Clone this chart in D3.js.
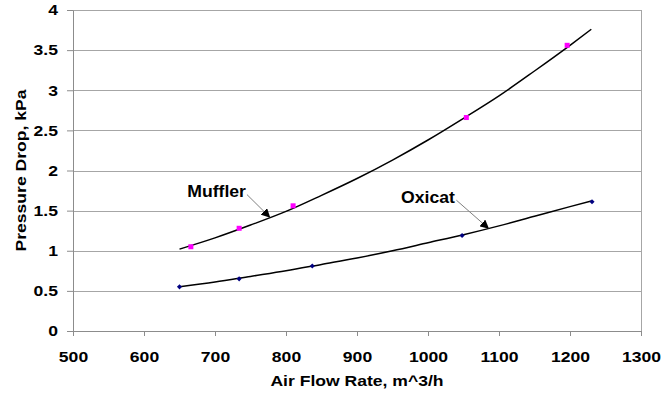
<!DOCTYPE html>
<html>
<head>
<meta charset="utf-8">
<script src="https://cdn.jsdelivr.net/npm/d3@7"></script>
<style>
  body { margin: 0; background: #fff; }
  svg { display: block; font-family: "Liberation Sans", Arial, sans-serif; }
</style>
</head>
<body>
<svg id="chart" width="662" height="394"></svg>
<script>
// measured points
const mufflerX = [666, 734, 810, 1054, 1196];
const mufflerY = [1.05, 1.28, 1.56, 2.66, 3.56];
const oxicatX = [650, 734, 837, 1048, 1231];
const oxicatY = [0.55, 0.65, 0.81, 1.19, 1.61];

// trend lines
const trendX = [650, 700, 750, 800, 850, 900, 950, 1000, 1050, 1100, 1150, 1200, 1230];
const mufflerTrend = [1.02, 1.16, 1.32, 1.49, 1.69, 1.90, 2.13, 2.38, 2.65, 2.93, 3.24, 3.56, 3.76];
const oxicatTrend = [0.55, 0.61, 0.68, 0.75, 0.83, 0.91, 1.00, 1.10, 1.20, 1.31, 1.43, 1.55, 1.62];

const xTicks = [500, 600, 700, 800, 900, 1000, 1100, 1200, 1300];
const yTicks = [0, 0.5, 1, 1.5, 2, 2.5, 3, 3.5, 4];

// callout labels: text position and arrow (from -> to) in data units
const callouts = [
  { text: "Muffler", x: 661, y: 1.67, from: [745, 1.70], to: [777, 1.42] },
  { text: "Oxicat", x: 962, y: 1.59, from: [1040, 1.63], to: [1085, 1.28] }
];

const svg = d3.select("#chart");
const margin = { top: 10, right: 21, bottom: 63, left: 73 };
const width = 662 - margin.left - margin.right;
const height = 394 - margin.top - margin.bottom;

const g = svg.append("g").attr("transform", `translate(${margin.left},${margin.top})`);
const x = d3.scaleLinear().domain([500, 1300]).range([0, width]);
const y = d3.scaleLinear().domain([0, 4]).range([height, 0]);

// stretch text a bit wider, like the original rendering
function stretch(sel, k) {
  sel.each(function () {
    const w = this.getComputedTextLength();
    d3.select(this).attr("textLength", w * k).attr("lengthAdjust", "spacingAndGlyphs");
  });
}

// gridlines
g.append("g")
  .selectAll("line")
  .data(yTicks.filter(d => d > 0))
  .join("line")
  .attr("x1", 0)
  .attr("x2", width)
  .attr("y1", d => Math.round(y(d)) + 0.5)
  .attr("y2", d => Math.round(y(d)) + 0.5)
  .attr("stroke", "#a6a6a6")
  .attr("stroke-width", 1);

// right border
g.append("line")
  .attr("x1", width + 0.5).attr("x2", width + 0.5)
  .attr("y1", 0).attr("y2", height)
  .attr("stroke", "#a6a6a6");

// axes
const xAxis = g.append("g")
  .attr("transform", `translate(0,${height})`)
  .call(d3.axisBottom(x).tickValues(xTicks).tickSize(5).tickPadding(15).tickSizeOuter(0).tickFormat(d3.format("d")));
const yAxis = g.append("g")
  .call(d3.axisLeft(y).tickValues(yTicks).tickSize(6).tickPadding(9).tickSizeOuter(0).tickFormat(d3.format("")));

[xAxis, yAxis].forEach(a => {
  a.select(".domain").attr("stroke", "#8c8c8c");
  a.selectAll(".tick line").attr("stroke", "#8c8c8c");
  a.selectAll(".tick text")
    .attr("fill", "#000")
    .style("font-size", "15px")
    .style("font-weight", "bold")
    .call(stretch, 1.17);
});

// axis titles
g.append("text")
  .attr("x", width / 2)
  .attr("y", height + 55)
  .attr("text-anchor", "middle")
  .style("font-size", "15px")
  .style("font-weight", "bold")
  .text("Air Flow Rate, m^3/h")
  .call(stretch, 1.17);

g.append("text")
  .attr("transform", "rotate(-90)")
  .attr("x", -height / 2)
  .attr("y", -47)
  .attr("text-anchor", "middle")
  .style("font-size", "15px")
  .style("font-weight", "bold")
  .text("Pressure Drop, kPa")
  .call(stretch, 1.17);

// trend lines
const line = d3.line()
  .x(d => x(d[0]))
  .y(d => y(d[1]))
  .curve(d3.curveMonotoneX);

g.append("path")
  .datum(trendX.map((d, i) => [d, mufflerTrend[i]]))
  .attr("fill", "none")
  .attr("stroke", "#000")
  .attr("stroke-width", 1.5)
  .attr("d", line);

g.append("path")
  .datum(trendX.map((d, i) => [d, oxicatTrend[i]]))
  .attr("fill", "none")
  .attr("stroke", "#000")
  .attr("stroke-width", 1.5)
  .attr("d", line);

// markers
g.append("g")
  .selectAll("rect")
  .data(mufflerX.map((d, i) => [d, mufflerY[i]]))
  .join("rect")
  .attr("x", d => x(d[0]) - 2.5)
  .attr("y", d => y(d[1]) - 2.5)
  .attr("width", 5)
  .attr("height", 5)
  .attr("fill", "#ff00ff");

g.append("g")
  .selectAll("rect")
  .data(oxicatX.map((d, i) => [d, oxicatY[i]]))
  .join("rect")
  .attr("transform", d => `translate(${x(d[0])},${y(d[1])}) rotate(45)`)
  .attr("x", -1.8)
  .attr("y", -1.8)
  .attr("width", 3.6)
  .attr("height", 3.6)
  .attr("fill", "#000080");

// callouts
svg.append("defs").append("marker")
  .attr("id", "arrow")
  .attr("viewBox", "0 0 10 10")
  .attr("refX", 9)
  .attr("refY", 5)
  .attr("markerWidth", 9)
  .attr("markerHeight", 9)
  .attr("markerUnits", "userSpaceOnUse")
  .attr("orient", "auto")
  .append("path")
  .attr("d", "M0,0L10,5L0,10z")
  .attr("fill", "#000");

callouts.forEach(c => {
  g.append("text")
    .attr("x", x(c.x))
    .attr("y", y(c.y))
    .style("font-size", "16px")
    .style("font-weight", "bold")
    .text(c.text)
    .call(stretch, 1.1);

  g.append("line")
    .attr("x1", x(c.from[0]))
    .attr("y1", y(c.from[1]))
    .attr("x2", x(c.to[0]))
    .attr("y2", y(c.to[1]))
    .attr("stroke", "#808080")
    .attr("stroke-width", 1)
    .attr("marker-end", "url(#arrow)");
});
</script>
</body>
</html>
